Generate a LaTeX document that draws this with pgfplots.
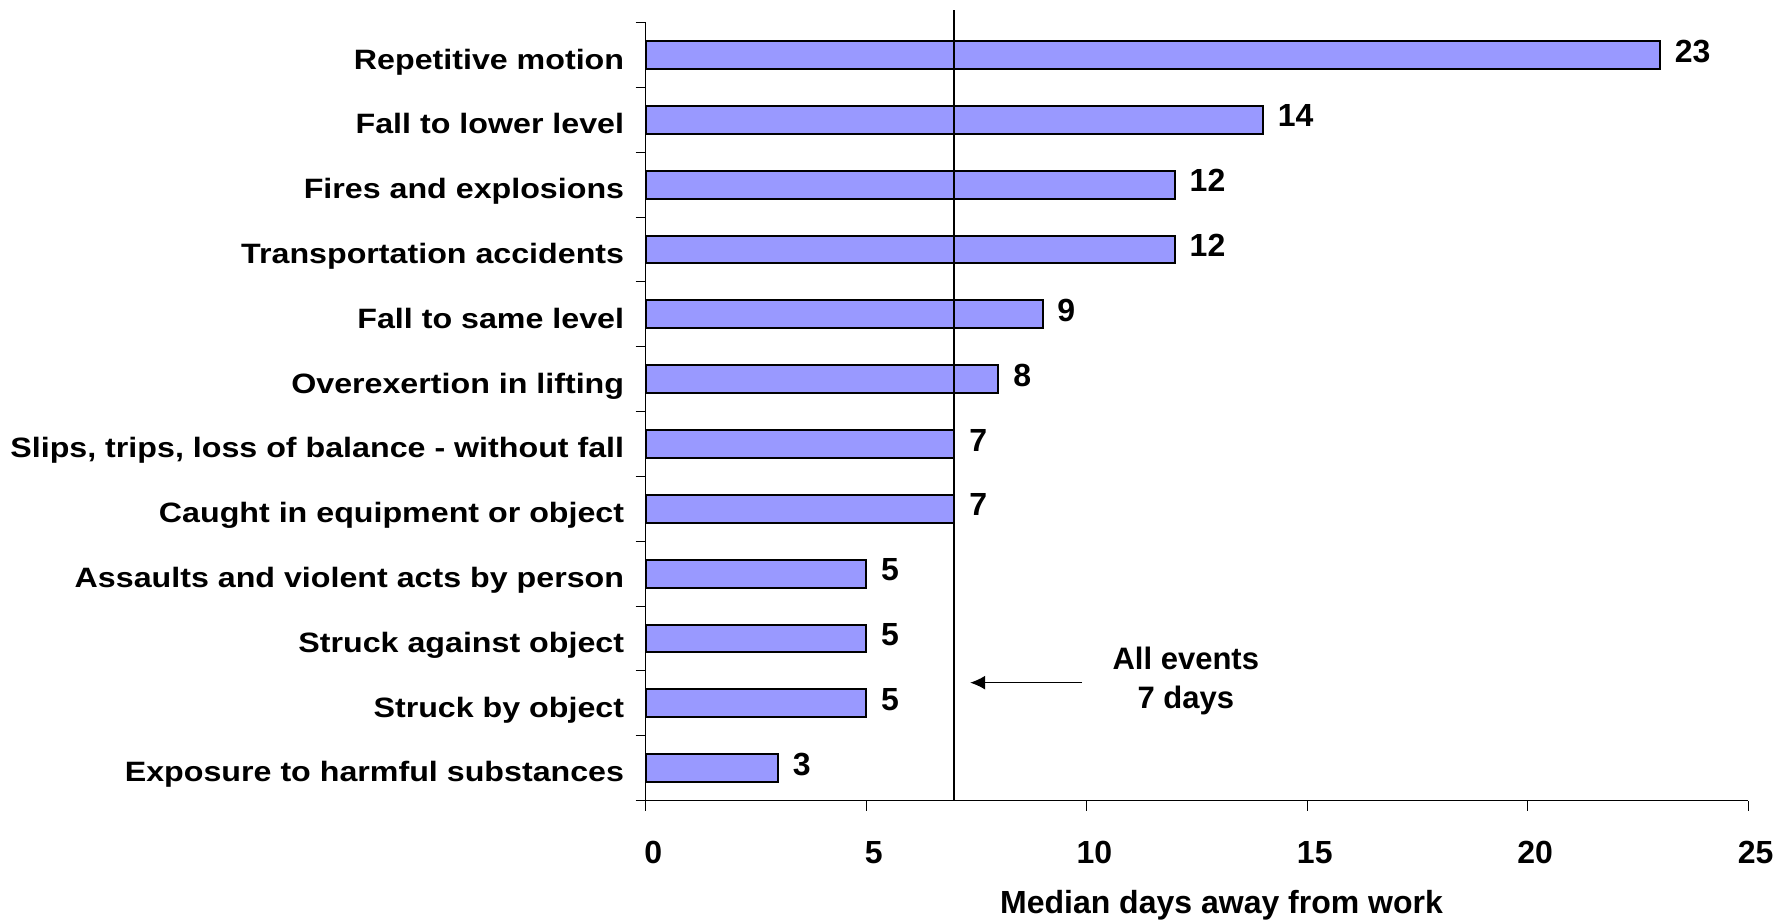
\documentclass[border=0pt]{standalone}
\usepackage{fontspec}
\setmainfont{Liberation Sans}[FakeStretch=1.15]
\newfontfamily\plainfont{Liberation Sans}
\usepackage{pgfplots}
\pgfplotsset{compat=1.18}
\usetikzlibrary{arrows.meta}
\definecolor{barfill}{HTML}{9999FF}
\begin{document}
\fontsize{14}{16.8}\selectfont\bfseries
\begin{tikzpicture}
\begin{axis}[
 scale only axis, width=551.15pt, height=388.9pt,
 xbar, bar width=0.43,
 xmin=0, xmax=25, ymin=-0.5, ymax=11.5,
 axis x line*=bottom, axis y line*=left,
 axis line style={black, line width=0.5pt},
 xtick={0,5,...,25}, minor xtick={0,5,...,25},
 ytick={0,...,11}, minor ytick={-0.5,0.5,...,11.5},
 yticklabels={Exposure to harmful substances, Struck by object, Struck against object, Assaults and violent acts by person, Caught in equipment or object, {Slips, trips, loss of balance - without fall}, Overexertion in lifting, Fall to same level, Transportation accidents, Fires and explosions, Fall to lower level, Repetitive motion},
 major tick length=0pt, minor tick length=5pt, tick align=outside,
 minor tick style={black, line width=0.5pt},
 /pgf/number format/assume math mode=true,
 xticklabel style={font=\plainfont\fontsize{16}{19}\selectfont\bfseries, inner sep=0pt, anchor=center, yshift=-26pt, xshift=3.85pt},
 yticklabel style={font=\fontsize{14}{16.8}\selectfont\bfseries, inner sep=0pt, anchor=base east, yshift=-6.95pt, xshift=-10.6pt},
 nodes near coords,
 nodes near coords style={font=\plainfont\fontsize{16}{19}\selectfont\bfseries, xshift=2.3pt, yshift=2pt},
 clip=false,
]
\addplot[fill=barfill, draw=black, line width=1pt] table {
x y
3 0
5 1
5 2
5 3
7 4
7 5
8 6
9 7
12 8
12 9
14 10
23 11
};
\draw[line width=1pt] (axis cs:7,-0.5) -- ([yshift=6.35pt]axis cs:7,11.5);
\draw[line width=0.6pt, -{Latex[length=7.5pt,width=7pt]}] (axis cs:9.9,1.318) -- (axis cs:7.36,1.318);
\node[anchor=base, font=\plainfont\fontsize{15.5}{18}\selectfont\bfseries] at (axis cs:12.25,1.514) {All events};
\node[anchor=base, font=\plainfont\fontsize{15.5}{18}\selectfont\bfseries] at (axis cs:12.25,0.923) {7 days};
\node[anchor=base, inner sep=0pt, font=\plainfont\fontsize{16}{19}\selectfont\bfseries] at ([yshift=-56.3pt]axis cs:13.06,-0.5) {Median days away from work};
\node[inner sep=0pt, minimum size=0pt] at ([xshift=-322.85pt, yshift=-60.25pt]axis cs:0,-0.5) {};
\node[inner sep=0pt, minimum size=0pt] at ([xshift=13.5pt, yshift=11.35pt]axis cs:25,11.5) {};
\end{axis}
\end{tikzpicture}
\end{document}
